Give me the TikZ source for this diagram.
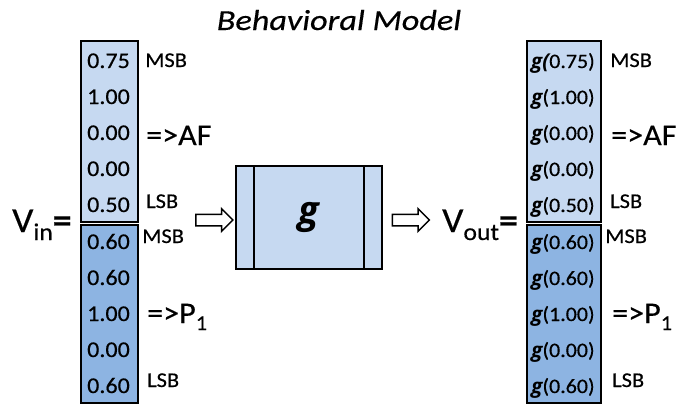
\documentclass[tikz,border=0pt]{standalone}
\usepackage{fontspec}
\setmainfont[FakeStretch=1.07,FakeBold=0.4]{Carlito}
\newfontfamily\titlefont[FakeStretch=1.18,FakeBold=0.4]{Carlito}
\newfontfamily\gfont{Open Sans}
\usetikzlibrary{shapes.arrows,calc}
\definecolor{lightcell}{HTML}{C6D9F1}
\definecolor{darkcell}{HTML}{8DB4E2}
\newcommand{\gb}{{\gfont\bfseries\itshape g}}
\begin{document}
\begin{tikzpicture}[x=1pt,y=-1pt,
  cellbox/.style={draw, line width=1.6pt, inner sep=0pt, minimum height=181pt},
  lowbox/.style={draw, line width=1.6pt, inner sep=0pt, minimum height=178pt, fill=darkcell},
  num/.style={font=\fontsize{22.5}{22.5}\selectfont, inner sep=0pt, anchor=base},
  gnum/.style={font=\fontsize{20.5}{20.5}\selectfont, inner sep=0pt, anchor=base},
  lab/.style={font=\fontsize{21}{21}\selectfont, inner sep=0pt, anchor=base west},
  biglab/.style={font=\fontsize{30}{30}\selectfont, inner sep=0pt, anchor=base west},
  hollow/.style={single arrow, draw, line width=1.5pt, fill=white, inner sep=5pt,
    single arrow head extend=5.5pt, minimum height=37pt},
  thick line/.style={line width=1.6pt}
]
\useasboundingbox (0,0) rectangle (684,405);

% title
\node[font=\titlefont\itshape\fontsize{29}{29}\selectfont, inner sep=0pt, anchor=base] (title) at (339,30) {Behavioral Model};

% input vector
\node[cellbox, fill=lightcell, minimum width=57pt] (inA) at (109.5,131.5) {};
\node[lowbox, minimum width=57pt] (inB) at (109.5,314) {};
\node[num] (i1) at (108.5,68) {0.75};
\node[num] (i2) at (108.5,104) {1.00};
\node[num] (i3) at (108.5,140) {0.00};
\node[num] (i4) at (108.5,176) {0.00};
\node[num] (i5) at (108.5,212) {0.50};
\node[num] (i6) at (108.5,249) {0.60};
\node[num] (i7) at (108.5,285) {0.60};
\node[num] (i8) at (108.5,321) {1.00};
\node[num] (i9) at (108.5,357) {0.00};
\node[num] (i10) at (108.5,393) {0.60};

\node[lab] (imsb1) at (145,67) {MSB};
\node[biglab] (iaf) at (146,145) {=>AF};
\node[lab] (ilsb1) at (146,208) {LSB};
\node[lab] (imsb2) at (142,243) {MSB};
\node[biglab] (ip1) at (147,323) {=>P\raisebox{-7pt}{\fontsize{21}{21}\selectfont 1}};
\node[lab] (ilsb2) at (147,387) {LSB};

\node[font=\fontsize{35}{35}\selectfont, inner sep=0pt, anchor=base west] (vin) at (12,232)
  {V\raisebox{-8pt}{\fontsize{24}{24}\selectfont in}\textbf{=}};

% arrows and g box
\node[hollow] (arr1) at (211.5,220) {};
\node[draw, line width=1.6pt, fill=lightcell, minimum width=146pt, minimum height=103pt, inner sep=0pt]
  (g) at (309,217.5) {\fontsize{38}{38}\selectfont\gb};
\draw[thick line] ($(g.north west)+(19,0)$) -- ($(g.south west)+(19,0)$);
\draw[thick line] ($(g.north east)+(-19,0)$) -- ($(g.south east)+(-19,0)$);
\node[hollow] (arr2) at (408,220) {};

\node[font=\fontsize{35}{35}\selectfont, inner sep=0pt, anchor=base west] (vout) at (442,232)
  {V\raisebox{-8pt}{\fontsize{24}{24}\selectfont out}\textbf{=}};

% output vector
\node[cellbox, fill=lightcell, minimum width=74pt] (outA) at (564,131.5) {};
\node[lowbox, minimum width=74pt] (outB) at (564,314) {};
\node[gnum] (o1) at (563,68) {{\gfont\bfseries\itshape g(}0.75)};
\node[gnum] (o2) at (563,104) {\gb(1.00)};
\node[gnum] (o3) at (563,140) {\gb(0.00)};
\node[gnum] (o4) at (563,176) {\gb(0.00)};
\node[gnum] (o5) at (563,212) {\gb(0.50)};
\node[gnum] (o6) at (563,249) {\gb(0.60)};
\node[gnum] (o7) at (563,285) {\gb(0.60)};
\node[gnum] (o8) at (563,321) {\gb(1.00)};
\node[gnum] (o9) at (563,357) {\gb(0.00)};
\node[gnum] (o10) at (563,393) {\gb(0.60)};

\node[lab] (omsb1) at (610,67) {MSB};
\node[biglab] (oaf) at (611,145) {=>AF};
\node[lab] (olsb1) at (610,208) {LSB};
\node[lab] (omsb2) at (605,243) {MSB};
\node[biglab] (op1) at (612,323) {=>P\raisebox{-7pt}{\fontsize{21}{21}\selectfont 1}};
\node[lab] (olsb2) at (612,387) {LSB};
\end{tikzpicture}
\end{document}
